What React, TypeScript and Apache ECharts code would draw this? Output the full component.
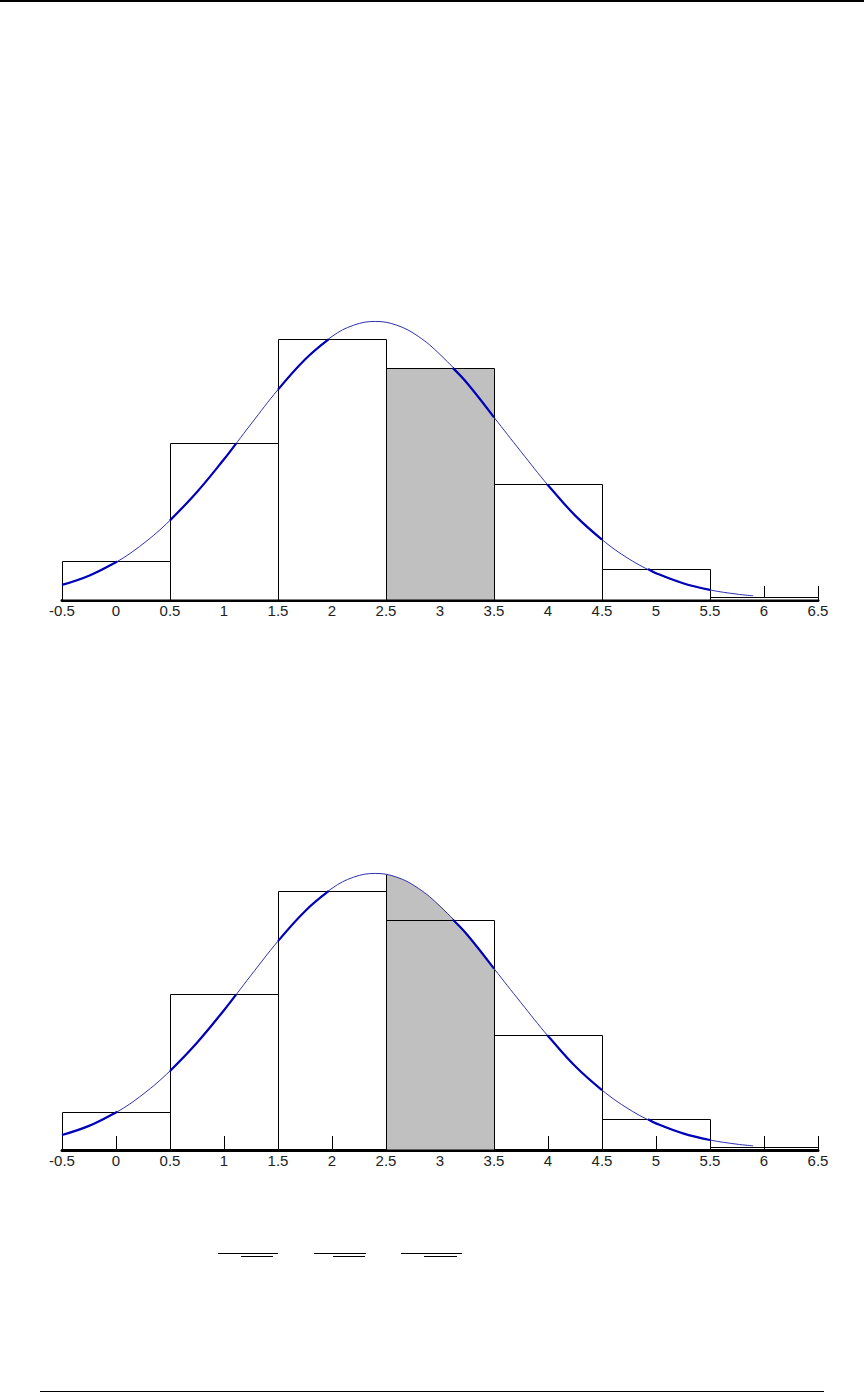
import React, { useEffect, useRef } from "react";
import * as echarts from "echarts";

// Histogram (binomial outcomes k = 0..6), bins of width 1 centred on k
const outcomes = [0, 1, 2, 3, 4, 5, 6];
const probabilities = [0.046, 0.187, 0.311, 0.277, 0.138, 0.037, 0.004];
const shadedOutcome = 3; // bin [2.5, 3.5]

// Overlayed normal curve
const curveX = [-0.5, -0.25, 0, 0.25, 0.5, 0.75, 1, 1.25, 1.5, 1.75, 2, 2.2, 2.4, 2.6, 2.8, 3, 3.25, 3.5, 3.75, 4, 4.25, 4.5, 4.75, 5, 5.25, 5.5, 5.75, 5.9];
const curveY = [0.018, 0.029, 0.045, 0.067, 0.095, 0.129, 0.168, 0.21, 0.251, 0.287, 0.3145, 0.3279, 0.3324, 0.3279, 0.3145, 0.293, 0.259, 0.218, 0.177, 0.137, 0.101, 0.072, 0.049, 0.032, 0.02, 0.012, 0.007, 0.005];
const shadeEdgeY = 0.331; // curve height at x = 2.5

// Axis
const axisMin = -0.5;
const axisMax = 6.5;
const axisStep = 0.5;

const CURVE_THIN = "#2e2eb0";
const CURVE_THICK = "#0000b8";
const GRAY = "#c0c0c0";

function thickRuns(): number[][][] {
  const runs: number[][][] = [];
  outcomes.forEach((k, i) => {
    const a = k - 0.5, b = k + 0.5, h = probabilities[i];
    const idx: number[] = [];
    curveX.forEach((x, j) => { if (x >= a - 1e-9 && x <= b + 1e-9) idx.push(j); });
    let run: number[][] = [];
    idx.forEach((j, n) => {
      const inside = curveY[j] <= h;
      if (n > 0) {
        const p = idx[n - 1];
        const prevInside = curveY[p] <= h;
        if (prevInside !== inside) {
          const t = (h - curveY[p]) / (curveY[j] - curveY[p]);
          const cx = curveX[p] + t * (curveX[j] - curveX[p]);
          if (inside) {
            run = [[cx, h]];
          } else {
            run.push([cx, h]);
            if (run.length > 1) runs.push(run);
            run = [];
          }
        }
      }
      if (inside) run.push([curveX[j], curveY[j]]);
    });
    if (run.length > 1) runs.push(run);
  });
  return runs;
}

export default function App() {
  const ref = useRef<HTMLDivElement>(null);
  useEffect(() => {
    if (!ref.current) return;
    const chart = echarts.init(ref.current, undefined, { renderer: "svg" });

    const scale1 = 838, base1 = 600;
    const scale2 = 832, base2 = 1150;
    const yMax = 0.35;

    const curveData = curveX.map((x, i) => [x, curveY[i]]);
    const barData = outcomes.map((k, i) => [k, probabilities[i]]);
    const runs = thickRuns();

    const makeXAxis = (gi: number) => ({
      type: "value",
      gridIndex: gi,
      min: axisMin,
      max: axisMax,
      interval: axisStep,
      axisLine: { show: true, onZero: false, lineStyle: { color: "#000", width: 3 } },
      axisTick: { show: true, inside: true, length: 14, lineStyle: { color: "#000", width: 1 } },
      axisLabel: { color: "#222", fontSize: 15, fontFamily: "Liberation Sans", margin: 3, showMinLabel: true, showMaxLabel: true },
      splitLine: { show: false },
    });
    const makeYAxis = (gi: number) => ({
      type: "value", gridIndex: gi, min: 0, max: yMax, show: false, splitLine: { show: false },
    });

    const barSeries = (gi: number, chart2: boolean) => ({
      type: "custom",
      xAxisIndex: gi,
      yAxisIndex: gi,
      z: 2,
      data: barData,
      renderItem: (params: any, api: any) => {
        const k = api.value(0), v = api.value(1);
        const p0 = api.coord([k - 0.5, 0]);
        const p1 = api.coord([k + 0.5, v]);
        const x0 = Math.round(p0[0]) + 0.5, x1 = Math.round(p1[0]) + 0.5;
        const yTop = Math.round(p1[1]) + 0.5, yBot = p0[1];
        const fill = chart2 ? "none" : (k === shadedOutcome ? GRAY : "#fff");
        return {
          type: "rect",
          shape: { x: x0, y: yTop, width: x1 - x0, height: yBot - yTop },
          style: { fill, stroke: "#000", lineWidth: 1 },
        };
      },
    });

    const curveSeries = (gi: number) => ({
      type: "line", xAxisIndex: gi, yAxisIndex: gi, z: 5, smooth: 0.4, symbol: "none",
      data: curveData, lineStyle: { color: CURVE_THIN, width: 1 }, silent: true,
    });
    const thickSeries = (gi: number) => runs.map((r) => ({
      type: "line", xAxisIndex: gi, yAxisIndex: gi, z: 6, smooth: 0.4, symbol: "none",
      data: r, lineStyle: { color: CURVE_THICK, width: 2.2 }, silent: true,
    }));

    const lo = shadedOutcome - 0.5, hi = shadedOutcome + 0.5;
    const shadeData = [[lo, shadeEdgeY], ...curveData.filter((p) => p[0] > lo + 1e-9 && p[0] <= hi + 1e-9)];

    const series: any[] = [
      barSeries(0, false),
      curveSeries(0),
      ...thickSeries(0),
      {
        type: "line", xAxisIndex: 1, yAxisIndex: 1, z: 1, smooth: 0.4, symbol: "none",
        data: shadeData, lineStyle: { width: 0 }, areaStyle: { color: GRAY, opacity: 1 }, silent: true,
      },
      {
        type: "custom", xAxisIndex: 1, yAxisIndex: 1, z: 2,
        data: [shadeData[0]],
        renderItem: (params: any, api: any) => {
          const p0 = api.coord([api.value(0), 0]);
          const p1 = api.coord([api.value(0), api.value(1)]);
          const x = Math.round(p0[0]) + 0.5;
          return { type: "line", shape: { x1: x, y1: p0[1], x2: x, y2: p1[1] }, style: { stroke: "#000", lineWidth: 1 } };
        },
      },
      barSeries(1, true),
      curveSeries(1),
      ...thickSeries(1),
    ];

    const lines = [
      [218, 278, 1253.5], [241, 273, 1256.5],
      [314, 366, 1253.5], [333, 365, 1256.5],
      [401, 462, 1253.5], [424, 457, 1256.5],
    ];

    chart.setOption({
      animation: false,
      backgroundColor: "#fff",
      grid: [
        { left: 62, width: 756, top: base1 - yMax * scale1, height: yMax * scale1 },
        { left: 62, width: 756, top: base2 - yMax * scale2, height: yMax * scale2 },
      ],
      xAxis: [makeXAxis(0), makeXAxis(1)],
      yAxis: [makeYAxis(0), makeYAxis(1)],
      series,
      graphic: [
        { type: "rect", shape: { x: 0, y: 0, width: 864, height: 2 }, style: { fill: "#000" } },
        { type: "line", shape: { x1: 40, y1: 1391.5, x2: 824, y2: 1391.5 }, style: { stroke: "#000", lineWidth: 1 } },
        ...lines.map((l) => ({ type: "line", shape: { x1: l[0], y1: l[2], x2: l[1], y2: l[2] }, style: { stroke: "#000", lineWidth: 1 } })),
      ],
    });
    return () => chart.dispose();
  }, []);
  return <div ref={ref} style={{ position: "absolute", left: 0, top: 0, width: 864, height: 1394 }} />;
}
